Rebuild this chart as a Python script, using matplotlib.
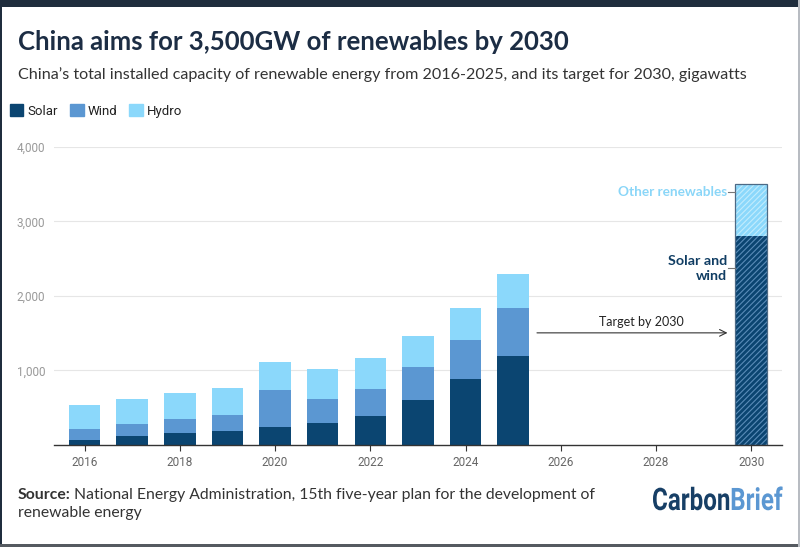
import matplotlib
matplotlib.use("Agg")
import matplotlib.pyplot as plt
from matplotlib.patches import Rectangle, PathPatch, Patch
from matplotlib.textpath import TextPath
from matplotlib.font_manager import FontProperties
from matplotlib.transforms import Affine2D
import numpy as np

# === data (GW) ===
years = [2016, 2017, 2018, 2019, 2020, 2021, 2022, 2023, 2024, 2025]
solar = [67, 121, 161, 193, 242, 296, 386, 605, 879, 1197]
wind = [144, 162, 189, 211, 502, 327, 367, 440, 525, 642]
hydro = [332, 340, 354, 358, 373, 395, 413, 421, 435, 452]

target_year = 2030
target_solar_wind = 2800
target_other = 700

xticks = [2016, 2018, 2020, 2022, 2024, 2026, 2028, 2030]
yticks = [1000, 2000, 3000, 4000]

# === colours ===
c_solar = "#0b4571"
c_wind = "#5b97d2"
c_hydro = "#8bd8fb"
c_title = "#1c2d44"
c_text = "#333333"

plt.rcParams["font.family"] = ["Lato", "DejaVu Sans"]
plt.rcParams["hatch.linewidth"] = 0.8

fig = plt.figure(figsize=(8, 5.47), dpi=100)
fig.patch.set_facecolor("white")

ax = fig.add_axes([0.067, 0.1865, 0.9105, 0.5448])

# === historical stacked bars ===
w = 0.66
s = np.array(solar)
wd = np.array(wind)
h = np.array(hydro)
ax.bar(years, s, width=w, color=c_solar, label="Solar", zorder=3)
ax.bar(years, wd, width=w, bottom=s, color=c_wind, label="Wind", zorder=3)
ax.bar(years, h, width=w, bottom=s + wd, color=c_hydro, label="Hydro", zorder=3)

# === 2030 target bar (hatched) ===
ax.bar(target_year, target_solar_wind, width=0.68, color=c_solar,
       edgecolor="#5a8cb8", hatch="//////", linewidth=0, zorder=3)
ax.bar(target_year, target_other, width=0.68, bottom=target_solar_wind,
       color=c_hydro, edgecolor="#c2ecfd", hatch="//////", linewidth=0, zorder=3)
ax.bar(target_year, target_solar_wind + target_other, width=0.68, fill=False,
       edgecolor="#4d6a86", linewidth=0.9, zorder=4)

# labels next to the target bar
lx = 2029.5
ax.plot([lx + 0.02, 2029.66], [3390, 3390], color="#777777", lw=0.8, zorder=4, clip_on=False)
ax.text(lx, 3390, "Other renewables", ha="right", va="center", fontsize=9.8,
        fontweight="bold", color="#8ad6f8")
ax.plot([lx + 0.02, 2029.66], [2370, 2370], color="#777777", lw=0.8, zorder=4, clip_on=False)
ax.text(lx, 2370, "Solar and\nwind", ha="right", va="center", fontsize=10.3,
        fontweight="bold", color="#103d63", linespacing=1.3, multialignment="right")

# arrow
ax.annotate("", xy=(2029.5, 1505), xytext=(2025.5, 1505),
            arrowprops=dict(arrowstyle="->", color="#333333", lw=0.8,
                            shrinkA=0, shrinkB=0, mutation_scale=12))
ax.text(2027.7, 1650, "Target by 2030", ha="center", va="center",
        fontsize=9, color="#222222")

# === axes styling ===
ax.set_xlim(2015.35, 2030.645)
ax.set_ylim(0, 4000)
ax.set_xticks(xticks)
ax.set_yticks(yticks)
ax.set_yticklabels([f"{v:,}" for v in yticks])
ax.grid(axis="y", color="#e6e6e6", lw=0.8, zorder=0)
ax.set_axisbelow(True)
for side in ["top", "right", "left"]:
    ax.spines[side].set_visible(False)
ax.spines["bottom"].set_color("#333333")
ax.spines["bottom"].set_linewidth(1.0)
ax.spines["bottom"].set_zorder(5)
ax.tick_params(axis="x", length=4, width=0.8, color="#333333", labelsize=8.5,
               labelcolor="#666666", pad=4)
ax.tick_params(axis="y", length=0, labelsize=8.5, labelcolor="#999999", pad=6)
for lab in ax.get_xticklabels() + ax.get_yticklabels():
    lab.set_family(["Roboto", "DejaVu Sans"])

# === legend ===
handles = [Patch(color=c_solar), Patch(color=c_wind), Patch(color=c_hydro)]
fig.legend(handles, ["Solar", "Wind", "Hydro"], loc="center left",
           bbox_to_anchor=(0.012, 0.797), ncol=3, frameon=False,
           handlelength=1.05, handleheight=1.05, handletextpad=0.3,
           columnspacing=0.9, prop=dict(family="Roboto", size=9.5),
           labelcolor="#222222", borderpad=0, borderaxespad=0)

# === titles ===
fig.text(0.022, 0.9086, "China aims for 3,500GW of renewables by 2030",
         fontsize=18.5, fontweight="bold", color=c_title, va="baseline")
fig.text(0.022, 0.856,
         "China\u2019s total installed capacity of renewable energy from 2016-2025, "
         "and its target for 2030, gigawatts",
         fontsize=11.6, color=c_text, va="baseline")

# === source ===
src_y = 0.095
t = fig.text(0.022, src_y, "Source:", fontsize=11.3, fontweight="bold",
             color=c_text, va="center")
fig.canvas.draw()
bb = t.get_window_extent()
x2 = (bb.x1 + 4) / fig.bbox.width
fig.text(x2, src_y,
         "National Energy Administration, 15th five-year plan for the development of",
         fontsize=11.3, color=c_text, va="center")
fig.text(0.022, 0.062, "renewable energy", fontsize=11.3, color=c_text, va="center")

# === CarbonBrief logo (condensed text path) ===
fp = FontProperties(family="Roboto", weight="bold")
p1 = TextPath((0, 0), "Carbon", size=31, prop=fp)
p2 = TextPath((0, 0), "Brief", size=31, prop=fp)
sx = 0.78
w1 = p1.get_extents().x1
base_x, base_y = 652, 547 - 510
tr1 = Affine2D().scale(sx, 1.0).translate(base_x, base_y)
tr2 = Affine2D().scale(sx, 1.0).translate(base_x + w1 * sx + 1, base_y)
fig.patches.append(PathPatch(tr1.transform_path(p1), color="#173f66", lw=0,
                             transform=None, figure=fig))
fig.patches.append(PathPatch(tr2.transform_path(p2), color="#5b97d2", lw=0,
                             transform=None, figure=fig))

# === border ===
fig.patches.append(Rectangle((0, 1 - 7 / 547), 1, 7 / 547, transform=fig.transFigure,
                             color="#1f2d3d", lw=0, figure=fig))
fig.patches.append(Rectangle((0, 0), 2 / 800, 1, transform=fig.transFigure,
                             color="#1f2d3d", lw=0, figure=fig))
fig.patches.append(Rectangle((0, 0), 1, 3 / 547, transform=fig.transFigure,
                             color="#555a60", lw=0, figure=fig))
fig.patches.append(Rectangle((1 - 2 / 800, 0), 2 / 800, 1, transform=fig.transFigure,
                             color="#b8bcc2", lw=0, figure=fig))

fig.savefig("out.png", dpi=100)
